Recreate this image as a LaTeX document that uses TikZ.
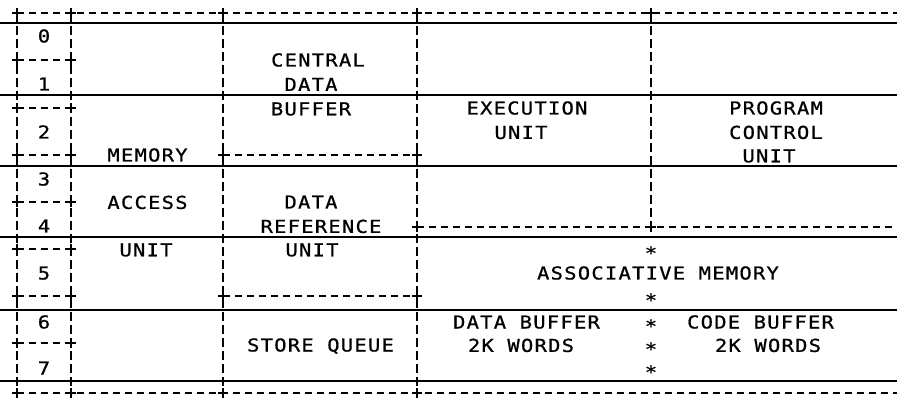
\documentclass[tikz,border=0pt]{standalone}
\usepackage{fontspec}
\usepackage{tikz}
\usetikzlibrary{positioning}
\newfontfamily\printfont[FakeStretch=1.15,LetterSpace=7,FakeBold=0.8]{DejaVu Sans Mono}
\tikzstyle{cell} = [draw=none, fill=none, text=black, text centered, inner sep=0pt, text height=13pt, text depth=0pt, font=\printfont\fontsize{17.8pt}{20pt}\selectfont]
\tikzstyle{starmark} = [cell, yshift=-4pt]
\tikzstyle{ruleline} = [draw, line width=2.4pt]
\tikzstyle{hdash} = [draw, line width=1.5pt, dash pattern=on 7pt off 5pt]
\tikzstyle{vdash} = [draw, line width=1.5pt, dash pattern=on 9pt off 4pt]
\tikzstyle{plusmark} = [draw, line width=1.6pt]

\begin{document}
\begin{tikzpicture}[x=1pt, y=-1pt]

\useasboundingbox (0,0) rectangle (897,398);

% grid =============================

% junctions
\foreach \col/\x in {a/17, b/71, c/223, d/417, e/651, r/897}
  \foreach \row/\y in {0/13, 2/60, 4/108, 6/155, 8/202, 9/227, 10/249, 12/296, 14/343, 16/393}
    \coordinate (\col\row) at (\x,\y);

% solid rules
\foreach \y [count=\i] in {23,95,166,237,310,381} {
  \coordinate (left\i) at (0,\y);
  \coordinate (right\i) at (897,\y);
  \path[ruleline] (left\i) -- (right\i);
}

% dashed rows
\path[hdash] (a0) -- (r0);
\path[hdash] (a16) -- (r16);
\foreach \row in {2,4,6,8,10,12,14}
  \path[hdash] (a\row) -- (b\row);
\path[hdash] (c6) -- (d6);
\path[hdash] (c12) -- (d12);
\path[hdash] (d9) -- (r9);

% dashed columns
\foreach \col in {a,b,c,d}
  \path[vdash] (\col0) -- (\col16);
\path[vdash] (e0) -- (e9);

% plus marks
\foreach \p in {a0,b0,c0,d0,e0, a2,b2, a4,b4, a6,b6,c6,d6, a8,b8, d9,e9,
                a10,b10, a12,b12,c12,d12, a14,b14, a16,b16,c16,d16}
  \draw[plusmark] (\p) +(-5,0) -- +(5,0) +(0,-5) -- +(0,5);

% labels =============================

% slot numbers
\foreach \n/\y in {0/36, 1/84, 2/132, 3/179, 4/226, 5/273, 6/322, 7/368}
  \node[cell] (slot\n) at (44,\y) {\n};

% memory access unit
\node[cell] (mem) at (147.5,155) {MEMORY};
\node[cell, below=34pt of mem] (access) {ACCESS};
\node[cell, below=34pt of access, xshift=-1.5pt] (maunit) {UNIT};

% central data buffer
\node[cell] (central) at (318,60) {CENTRAL};
\node[cell, below=11pt of central, xshift=-7pt] (cdata) {DATA};
\node[cell, below=11pt of cdata] (buffer) {BUFFER};

% data reference unit
\node[cell] (rdata) at (311,202) {DATA};
\node[cell, below=11pt of rdata, xshift=10pt] (reference) {REFERENCE};
\node[cell, below=10pt of reference, xshift=-9pt] (drunit) {UNIT};

\node[cell] (queue) at (320.5,345) {STORE QUEUE};

% execution unit
\node[cell] (exec) at (527,108) {EXECUTION};
\node[cell, below=11pt of exec, xshift=-6pt] (eunit) {UNIT};

% program control unit
\node[cell] (program) at (776,108) {PROGRAM};
\node[cell, below=11pt of program] (control) {CONTROL};
\node[cell, below=10pt of control, xshift=-7pt] (punit) {UNIT};

% associative memory
\node[cell] (assoc) at (658,273) {ASSOCIATIVE MEMORY};
\foreach \y [count=\i] in {249,296,322,345,368}
  \node[starmark] (ast\i) at (651,\y) {*};

% buffers
\node[cell] (dbuf) at (526.5,322) {DATA BUFFER};
\node[cell, below=10pt of dbuf, xshift=-5.5pt] (dwords) {2K WORDS};
\node[cell] (cbuf) at (760.5,322) {CODE BUFFER};
\node[cell, below=10pt of cbuf, xshift=7.5pt] (cwords) {2K WORDS};

\end{tikzpicture}
\end{document}
